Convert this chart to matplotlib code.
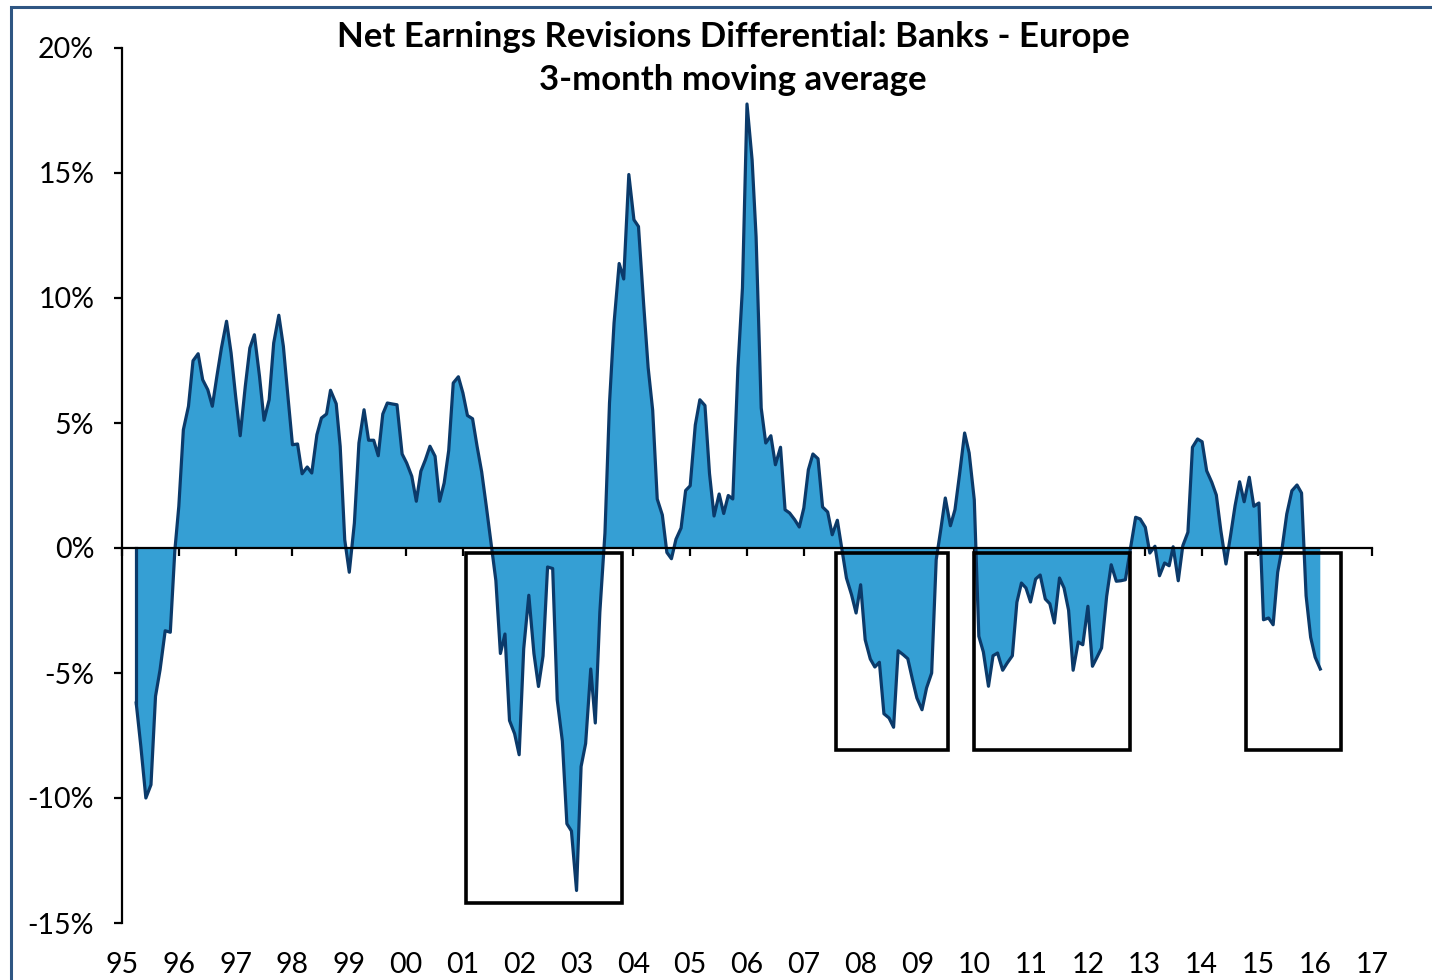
import numpy as np
import matplotlib
matplotlib.use("Agg")
import matplotlib.pyplot as plt
from matplotlib.patches import Rectangle

plt.rcParams['font.family'] = ['Lato', 'DejaVu Sans']

# ---------- COLORS ----------
FILL_COLOR = '#359fd4'
LINE_COLOR = '#0b3a6a'
BORDER_COLOR = '#2f5683'

# ---------- DATA (% net revisions differential) ----------
dates = 1900 + np.array([
    95.25, 95.33, 95.42, 95.51, 95.59, 95.67, 95.76, 95.85, 95.93, 96.00,
    96.08, 96.17, 96.25, 96.34, 96.42, 96.51, 96.59, 96.67, 96.75, 96.84,
    96.92, 97.00, 97.08, 97.17, 97.25, 97.33, 97.42, 97.50, 97.59, 97.67,
    97.76, 97.84, 97.92, 98.00, 98.09, 98.17, 98.26, 98.34, 98.43, 98.51,
    98.60, 98.67, 98.77, 98.84, 98.92, 99.00, 99.09, 99.17, 99.26, 99.34,
    99.43, 99.51, 99.59, 99.67, 99.76, 99.84, 99.93, 100.01, 100.10, 100.18,
    100.26, 100.34, 100.42, 100.51, 100.59, 100.67, 100.75, 100.83, 100.92, 101.00,
    101.08, 101.17, 101.25, 101.33, 101.41, 101.50, 101.58, 101.66, 101.74, 101.82,
    101.91, 101.99, 102.07, 102.16, 102.25, 102.33, 102.41, 102.49, 102.58, 102.66,
    102.75, 102.83, 102.91, 103.00, 103.08, 103.16, 103.25, 103.33, 103.41, 103.50,
    103.58, 103.66, 103.75, 103.83, 103.92, 104.01, 104.09, 104.18, 104.26, 104.34,
    104.42, 104.51, 104.59, 104.67, 104.75, 104.84, 104.92, 105.00, 105.09, 105.17,
    105.26, 105.34, 105.42, 105.51, 105.59, 105.67, 105.75, 105.84, 105.92, 106.00,
    106.09, 106.16, 106.25, 106.33, 106.42, 106.50, 106.59, 106.67, 106.75, 106.84,
    106.92, 107.00, 107.08, 107.16, 107.25, 107.33, 107.42, 107.50, 107.59, 107.67,
    107.75, 107.84, 107.92, 108.00, 108.08, 108.17, 108.25, 108.33, 108.41, 108.50,
    108.58, 108.66, 108.75, 108.83, 108.91, 108.99, 109.08, 109.16, 109.25, 109.33,
    109.41, 109.49, 109.58, 109.66, 109.74, 109.83, 109.91, 110.00, 110.08, 110.16,
    110.25, 110.33, 110.41, 110.50, 110.58, 110.67, 110.75, 110.83, 110.91, 110.99,
    111.08, 111.16, 111.25, 111.33, 111.41, 111.50, 111.58, 111.66, 111.74, 111.83,
    111.91, 112.00, 112.08, 112.16, 112.24, 112.33, 112.41, 112.50, 112.58, 112.66,
    112.75, 112.84, 112.92, 113.01, 113.09, 113.18, 113.26, 113.35, 113.43, 113.50,
    113.59, 113.67, 113.76, 113.84, 113.93, 114.01, 114.09, 114.18, 114.26, 114.34,
    114.43, 114.51, 114.59, 114.67, 114.75, 114.84, 114.92, 115.01, 115.09, 115.18,
    115.26, 115.34, 115.42, 115.50, 115.59, 115.68, 115.76, 115.84, 115.92, 116.00,
    116.09,
])

values = np.array([
    -6.20, -7.90, -10.00, -9.47, -5.93, -4.87, -3.31, -3.37, -0.10, 1.67,
    4.73, 5.67, 7.49, 7.77, 6.73, 6.33, 5.67, 6.87, 8.00, 9.07,
    7.80, 6.07, 4.49, 6.47, 8.00, 8.53, 6.87, 5.11, 5.93, 8.20,
    9.31, 8.07, 6.07, 4.13, 4.16, 2.97, 3.24, 3.00, 4.53, 5.20,
    5.36, 6.31, 5.77, 4.07, 0.33, -0.97, 1.00, 4.20, 5.53, 4.31,
    4.31, 3.69, 5.36, 5.80, 5.76, 5.73, 3.76, 3.40, 2.87, 1.87,
    3.07, 3.53, 4.07, 3.67, 1.87, 2.60, 3.90, 6.60, 6.85, 6.20,
    5.30, 5.17, 4.06, 3.05, 1.70, 0.10, -1.30, -4.22, -3.44, -6.90,
    -7.43, -8.27, -4.03, -1.89, -4.22, -5.54, -4.32, -0.76, -0.82, -6.07,
    -7.72, -11.03, -11.32, -13.70, -8.74, -7.82, -4.84, -7.00, -2.57, 0.60,
    5.80, 9.00, 11.38, 10.76, 14.94, 13.13, 12.86, 9.79, 7.22, 5.51,
    1.96, 1.32, -0.18, -0.43, 0.35, 0.80, 2.30, 2.49, 4.92, 5.93,
    5.70, 2.98, 1.28, 2.16, 1.38, 2.10, 1.96, 7.20, 10.40, 17.76,
    15.52, 12.45, 5.60, 4.20, 4.49, 3.33, 4.03, 1.53, 1.40, 1.13,
    0.84, 1.60, 3.13, 3.76, 3.57, 1.64, 1.44, 0.53, 1.11, -0.05,
    -1.20, -1.87, -2.60, -1.47, -3.67, -4.44, -4.76, -4.57, -6.63, -6.80,
    -7.17, -4.11, -4.27, -4.43, -5.24, -6.00, -6.47, -5.60, -5.00, -0.47,
    0.73, 2.00, 0.89, 1.53, 2.93, 4.60, 3.80, 1.93, -3.53, -4.16,
    -5.53, -4.31, -4.20, -4.89, -4.60, -4.31, -2.17, -1.40, -1.60, -2.16,
    -1.24, -1.08, -2.04, -2.23, -3.00, -1.20, -1.60, -2.49, -4.89, -3.76,
    -3.87, -2.33, -4.73, -4.37, -4.00, -1.93, -0.67, -1.33, -1.31, -1.27,
    0.00, 1.23, 1.16, 0.83, -0.20, 0.07, -1.11, -0.60, -0.71, 0.05,
    -1.31, 0.09, 0.63, 4.03, 4.36, 4.25, 3.09, 2.63, 2.12, 0.69,
    -0.64, 0.49, 1.69, 2.65, 1.85, 2.83, 1.67, 1.80, -2.87, -2.80,
    -3.07, -0.97, 0.03, 1.36, 2.29, 2.52, 2.20, -1.91, -3.57, -4.37,
    -4.84,
])

year_ticks = np.arange(1995, 2018)
year_labels = [f"{y % 100:02d}" for y in year_ticks]
pct_ticks = [-15, -10, -5, 0, 5, 10, 15, 20]

# highlighted episodes (start, end, lower bound %)
box_start = [2001.05, 2007.57, 2009.99, 2014.78]
box_end = [2003.80, 2009.54, 2012.74, 2016.45]
box_low = [-14.2, -8.08, -8.08, -8.08]
box_top = -0.2

# ---------- FIGURE ----------
W, H = 1432, 980
fig = plt.figure(figsize=(W / 100, H / 100), dpi=100)
ax = fig.add_axes([122 / W, 1 - 923 / H, (1372 - 122) / W, (923 - 48) / H])

ax.fill_between(dates, values, 0, facecolor=FILL_COLOR, edgecolor='none', zorder=2)
ax.plot(dates, values, color=LINE_COLOR, lw=2.3, zorder=3)
ax.plot([dates[0], dates[0]], [0, values[0]], color=LINE_COLOR, lw=2.3, zorder=3)

for x0, x1, lo in zip(box_start, box_end, box_low):
    ax.add_patch(Rectangle((x0, lo), x1 - x0, box_top - lo, fill=False,
                           edgecolor='black', lw=2.6, zorder=5))

ax.set_xlim(1995, 2017)
ax.set_ylim(-15, 20)

# axes: y spine on the left, x spine through zero
for s in ['top', 'right']:
    ax.spines[s].set_visible(False)
ax.spines['bottom'].set_position(('data', 0))
ax.spines['bottom'].set_zorder(4)
for s in ['bottom', 'left']:
    ax.spines[s].set_linewidth(1.6)
    ax.spines[s].set_color('black')

ax.set_xticks(year_ticks)
ax.tick_params(axis='x', direction='out', length=6, width=1.6, labelbottom=False)
ax.set_yticks(pct_ticks)
ax.set_yticklabels([f"{v}%" for v in pct_ticks])
ax.tick_params(axis='y', direction='out', length=6, width=1.6, pad=14, labelsize=20.5)

# year labels sit at the bottom of the plot
sec = ax.secondary_xaxis('bottom')
sec.set_xticks(year_ticks)
sec.set_xticklabels(year_labels)
sec.spines['bottom'].set_visible(False)
sec.tick_params(length=0, pad=21, labelsize=20.5)

# title
fig.text(733 / W, 1 - 37 / H, "Net Earnings Revisions Differential: Banks - Europe",
         ha='center', va='center', fontsize=25, fontweight='bold')
fig.text(733 / W, 1 - 80 / H, "3-month moving average",
         ha='center', va='center', fontsize=25, fontweight='bold')

# outer frame (top and left edges visible)
fig.patches.append(Rectangle((11 / W, -0.05), 1.1, 1 - 7 / H + 0.05,
                             transform=fig.transFigure, fill=False,
                             edgecolor=BORDER_COLOR, lw=2.2))

fig.savefig("out.png", dpi=100)
